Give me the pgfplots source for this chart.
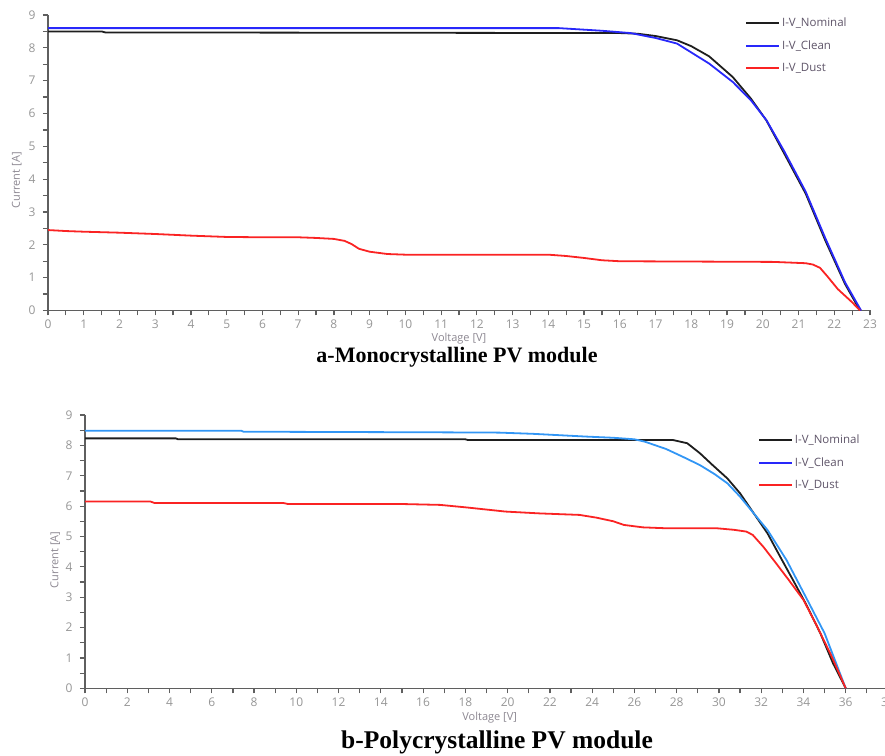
\documentclass[border=0pt]{standalone}
\usepackage{fontspec}
\setmainfont{Liberation Serif}
\newfontfamily\chartfont{Open Sans}
\usepackage{pgfplots}
\pgfplotsset{compat=1.18}
\definecolor{axisgray}{RGB}{95,95,95}
\definecolor{tickgray}{RGB}{150,150,150}
\definecolor{labgray}{RGB}{140,135,145}
\definecolor{leggray}{RGB}{95,85,105}
\definecolor{ivblack}{RGB}{30,30,30}
\definecolor{ivblue}{RGB}{40,40,250}
\definecolor{ivlblue}{RGB}{50,150,245}
\definecolor{ivred}{RGB}{250,35,35}

\pgfplotsset{
  ivstyle/.style={
    scale only axis,
    axis lines*=left,
    axis line style={draw=axisgray, line width=1.6pt},
    tick style={draw=axisgray, line width=1.2pt},
    major tick length=5pt, minor tick length=5pt,
    tick align=outside,
    minor tick num=1,
    ymin=0, ymax=9, ytick distance=1,
    xmin=0,
    ticklabel style={font=\chartfont\fontsize{12}{12}\selectfont, text=tickgray},
    xticklabel style={yshift=-1pt},
    yticklabel style={xshift=-4pt},
    /pgf/number format/assume math mode=true,
    label style={font=\chartfont\fontsize{11}{11}\selectfont, text=labgray},
    xlabel={Voltage [V]}, ylabel={Current [A]},
    legend style={draw=none, fill=none, font=\chartfont\fontsize{11.5}{11.5}\selectfont,
      text=leggray, row sep=8.5pt, inner sep=0pt},
    legend cell align=left,
    legend image code/.code={\draw[#1, line width=1.8pt] (0pt,0pt) -- (33pt,0pt);},
    every axis plot/.append style={line width=1.8pt},
  }
}

\begin{document}
\begin{tikzpicture}[x=1pt,y=1pt]
\useasboundingbox (0,0) rectangle (885,755);

% a - monocrystalline
\begin{axis}[ivstyle,
  at={(48pt,444.5pt)}, anchor=south west,
  width=822pt, height=295.5pt,
  xmax=23, xtick distance=1,
  xlabel style={at={(axis description cs:0.5,-0.095)}, anchor=center},
  ylabel style={at={(axis description cs:-0.038,0.44)}, anchor=center},
  legend style={at={(rel axis cs:0.848,0.998)}, anchor=north west},
]
\addplot[ivblack] coordinates {
(0,8.50) (1.5,8.50) (1.6,8.47) (16,8.45) (16.5,8.43) (17,8.36) (17.6,8.23)
(18,8.05) (18.5,7.74) (19.16,7.11) (19.67,6.45) (20.1,5.79) (20.6,4.78)
(21.2,3.56) (21.75,2.13) (22.3,0.81) (22.72,0)
};
\addlegendentry{I-V\_Nominal}
\addplot[ivblue] coordinates {
(0,8.60) (14.3,8.60) (14.9,8.56) (15.5,8.52) (16.3,8.45) (17,8.30) (17.6,8.13)
(18.5,7.52) (19.16,6.96) (19.67,6.40) (20.1,5.80) (20.6,4.85) (21.2,3.62)
(21.75,2.20) (22.3,0.86) (22.75,0)
};
\addlegendentry{I-V\_Clean}
\addplot[ivred] coordinates {
(0,2.45) (0.5,2.42) (1,2.40) (2,2.37) (3,2.33) (4,2.28) (5,2.24) (6,2.23)
(7,2.23) (7.5,2.21) (8,2.18) (8.3,2.12) (8.5,2.02) (8.7,1.88) (9,1.79)
(9.5,1.72) (10,1.70) (14,1.70) (14.5,1.66) (15,1.60) (15.5,1.53) (16,1.50)
(20.3,1.48) (21.2,1.44) (21.4,1.40) (21.6,1.30) (21.8,1.05) (22.1,0.65)
(22.5,0.25) (22.72,0)
};
\addlegendentry{I-V\_Dust}
\end{axis}

% b - polycrystalline
\begin{axis}[ivstyle,
  at={(85pt,66.7pt)}, anchor=south west,
  width=803pt, height=273.3pt,
  xmax=38, xtick distance=2,
  xlabel style={at={(axis description cs:0.504,-0.107)}, anchor=center},
  ylabel style={at={(axis description cs:-0.037,0.47)}, anchor=center},
  legend style={at={(rel axis cs:0.838,0.935)}, anchor=north west},
]
\addplot[ivblack] coordinates {
(0,8.23) (4.3,8.23) (4.4,8.20) (18,8.20) (18.1,8.18) (27.8,8.18) (28.5,8.07)
(29.1,7.74) (29.7,7.35) (30.4,6.91) (31.0,6.42) (31.6,5.81) (32.3,5.10)
(32.9,4.33) (33.5,3.57) (34.1,2.80) (34.8,1.81) (35.4,0.82) (36.0,0)
};
\addlegendentry{I-V\_Nominal}
\addplot[ivlblue, forget plot] coordinates {
(0,8.48) (7.4,8.48) (7.5,8.45) (16.5,8.43) (19.6,8.42) (21.2,8.38) (23.7,8.29)
(25,8.25) (26,8.20) (26.5,8.12) (27.5,7.88) (28.3,7.62) (29.1,7.35)
(29.8,7.05) (30.4,6.75) (31.0,6.31) (31.6,5.80) (32.3,5.21) (33.2,4.22)
(34.1,3.02) (35.0,1.81) (36.0,0)
};
\addlegendimage{ivblue}
\addlegendentry{I-V\_Clean}
\addplot[ivred] coordinates {
(0,6.15) (3.1,6.15) (3.3,6.10) (9.4,6.10) (9.6,6.07) (14.9,6.07) (16.8,6.04)
(18,5.96) (19.9,5.82) (21.5,5.76) (23.4,5.71) (24.2,5.62) (25.0,5.50)
(25.5,5.38) (26.4,5.30) (27.5,5.27) (29.9,5.27) (30.7,5.22) (31.3,5.16)
(31.6,5.05) (32.1,4.66) (32.7,4.12) (33.3,3.57) (34.0,2.91) (34.6,2.10)
(35.3,1.10) (36.0,0)
};
\addlegendentry{I-V\_Dust}
\end{axis}

\node[anchor=base, font=\bfseries\fontsize{22}{22}\selectfont] at (457,392) {a-Monocrystalline PV module};
\node[anchor=base, font=\bfseries\fontsize{25.5}{25.5}\selectfont] at (497,6.5) {b-Polycrystalline PV module};
\end{tikzpicture}
\end{document}
